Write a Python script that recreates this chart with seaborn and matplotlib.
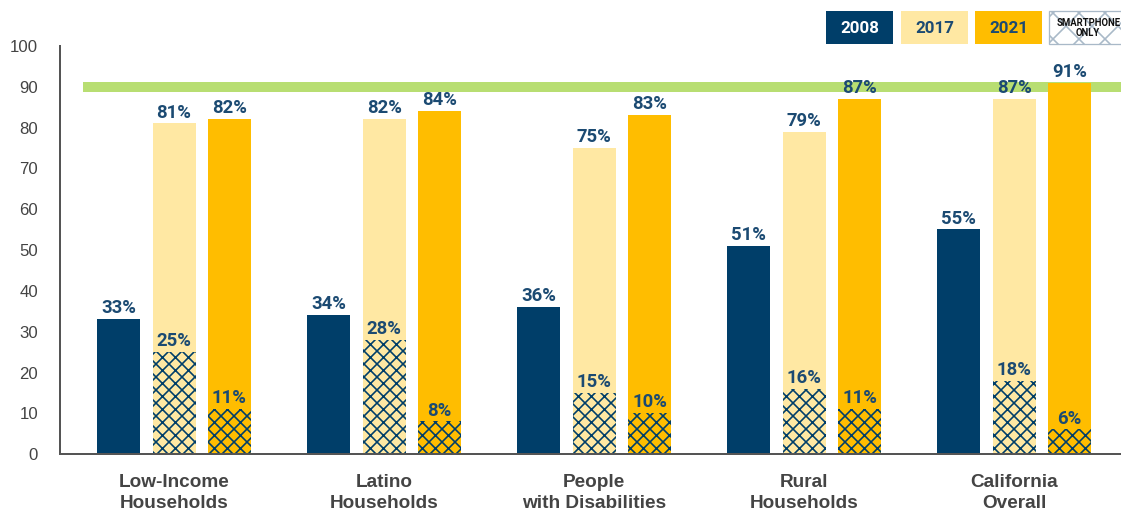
import matplotlib
matplotlib.use("Agg")
import matplotlib.pyplot as plt
from matplotlib.patches import Rectangle
import pandas as pd
import seaborn as sns

# ---- data ----
groups = ["Low-Income\nHouseholds", "Latino\nHouseholds", "People\nwith Disabilities",
          "Rural\nHouseholds", "California\nOverall"]
years = ["2008", "2017", "2021"]
adopt_2008 = [33, 34, 36, 51, 55]
adopt_2017 = [81, 82, 75, 79, 87]
adopt_2021 = [82, 84, 83, 87, 91]
smartphone_2017 = [25, 28, 15, 16, 18]
smartphone_2021 = [11, 8, 10, 11, 6]
goal = 90
y_ticks = list(range(0, 101, 10))

# ---- style ----
NAVY = "#003e69"
LIGHT = "#ffe8a3"
GOLD = "#ffbd00"
LABEL = "#1b4a72"
GREEN = "#b8de72"
AXIS = "#555555"
palette = {"2008": NAVY, "2017": LIGHT, "2021": GOLD}

DPI = 78
PT = 72 / DPI  # points per pixel

sns.set_style("white")
plt.rcParams["font.family"] = ["Liberation Sans", "DejaVu Sans"]
plt.rcParams["hatch.linewidth"] = 1.5
NARROW = ["Roboto", "DejaVu Sans"]

df = pd.DataFrame({
    "group": groups * 3,
    "year": [y for y in years for _ in groups],
    "value": adopt_2008 + adopt_2017 + adopt_2021,
})
df_phone = pd.DataFrame({
    "group": groups * 2,
    "year": ["2017"] * len(groups) + ["2021"] * len(groups),
    "value": smartphone_2017 + smartphone_2021,
})

fig = plt.figure(figsize=(1121.2 / DPI, 515.2 / DPI), dpi=DPI)
ax = fig.add_axes([60 / 1121, 61 / 515, 1061 / 1121, 408 / 515])

# goal line behind the bars
ax.axhline(goal, xmin=23 / 1061, xmax=1, color=GREEN, lw=10 * PT,
           solid_capstyle="butt", zorder=1.5)

bar_kw = dict(x="group", y="value", hue="year", order=groups, hue_order=years,
              palette=palette, width=0.79, gap=0.224, saturation=1,
              errorbar=None, legend=False, ax=ax)

sns.barplot(data=df, **bar_kw)
main_bars = list(ax.patches)
for p in main_bars:
    p.set_linewidth(0)
    p.set_zorder(2)

sns.barplot(data=df_phone, **bar_kw)
phone_bars = [p for p in ax.patches if p not in main_bars]
for p in phone_bars:
    p.set_edgecolor(NAVY)
    p.set_linewidth(0)
    p.set_hatch("xx")
    p.set_zorder(2.5)

# value labels
for p in main_bars + phone_bars:
    h = p.get_height()
    if h != h or h == 0:
        continue
    ax.annotate(f"{h:.0f}%", (p.get_x() + p.get_width() / 2, h),
                xytext=(0, 6 * PT), textcoords="offset points",
                ha="center", va="baseline", color=LABEL,
                fontsize=18.5 * PT, fontweight="bold", family=NARROW, zorder=5)

# axes
ax.set_xlim(-0.543, -0.543 + 1061 / 210)
ax.set_ylim(0, 100)
ax.set_yticks(y_ticks)
ax.set_xlabel("")
ax.set_ylabel("")
ax.set_xticks(range(len(groups)))
ax.set_xticklabels(groups, fontsize=19 * PT, fontweight="bold", color="#444444",
                   linespacing=1.3)
ax.set_xticks([i + 0.5 for i in range(len(groups) - 1)], minor=True)
ax.tick_params(axis="x", which="major", length=0, pad=20 * PT)
ax.tick_params(axis="x", which="minor", direction="in", length=7 * PT,
               width=2 * PT, color=AXIS)
ax.tick_params(axis="y", direction="in", length=16 * PT, width=2 * PT, color=AXIS,
               labelsize=16.7 * PT, labelcolor="#444444", pad=22 * PT)
for s in ["top", "right"]:
    ax.spines[s].set_visible(False)
for s in ["left", "bottom"]:
    ax.spines[s].set_color(AXIS)
    ax.spines[s].set_linewidth(2 * PT)

# legend boxes across the top right
def legend_box(x0, w, face, text, tcolor, hatch=None, edge=None, fs=17,
               lines=1.0, tx=None):
    rect = Rectangle((x0 / 1121, 1 - 44 / 515), w / 1121, 33 / 515,
                     transform=fig.transFigure, facecolor=face,
                     edgecolor=edge if edge else face, lw=1.2 if edge else 0,
                     hatch=hatch)
    fig.add_artist(rect)
    cx = tx if tx is not None else x0 + w / 2
    fig.text(cx / 1121, 1 - 28 / 515, text, ha="center", va="center",
             color=tcolor, fontsize=fs * PT, fontweight="bold", family=NARROW,
             linespacing=lines)

legend_box(826, 67, NAVY, "2008", "white")
legend_box(901, 67, LIGHT, "2017", LABEL)
legend_box(975, 67, GOLD, "2021", LABEL)
legend_box(1049, 80, "white", "SMARTPHONE\nONLY", "#111111", hatch="x",
           edge="#a9b9c8", fs=9.5, lines=1.05, tx=1088)

fig.savefig("out.png", dpi=DPI)
